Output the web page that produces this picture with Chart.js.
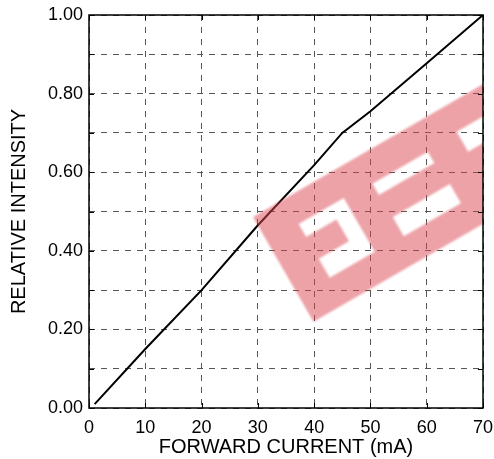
<!DOCTYPE html>
<html>
<head>
<meta charset="utf-8">
<script src="https://cdn.jsdelivr.net/npm/chart.js@4.4.1/dist/chart.umd.min.js"></script>
<style>
  html, body { margin: 0; padding: 0; background: #fff; }
  canvas { display: block; }
</style>
</head>
<body>
<canvas id="chart" width="494" height="459"></canvas>
<script>
const currentMa = [1, 10, 20, 30, 40, 45, 50, 60, 70];
const relIntensity = [0.01, 0.15, 0.30, 0.465, 0.618, 0.70, 0.755, 0.877, 1.0];

const xTicks = [0, 10, 20, 30, 40, 50, 60, 70];
const yTicks = [0, 0.2, 0.4, 0.6, 0.8, 1.0];

const fontFamily = "'Liberation Sans', Arial, sans-serif";

// translucent stamp over the plot, clipped to the chart area
const stampPlugin = {
  id: "stamp",
  afterDatasetsDraw(chart) {
    const { ctx, chartArea } = chart;
    ctx.save();
    ctx.beginPath();
    ctx.rect(chartArea.left, chartArea.top, chartArea.right - chartArea.left, chartArea.bottom - chartArea.top);
    ctx.clip();
    ctx.filter = "blur(1px)";
    ctx.translate(253, 217);
    ctx.rotate(-Math.PI / 6);
    ctx.beginPath();
    ctx.rect(0, 0, 420, 121);
    ctx.rect(36, 29, 52, 62);
    ctx.rect(36, 44, 35, 25);
    ctx.rect(120, 31, 64, 13);
    ctx.rect(121, 70, 66, 22);
    ctx.rect(219, 28, 100, 23);
    ctx.fillStyle = "rgba(220, 70, 80, 0.5)";
    ctx.fill("evenodd");
    ctx.restore();
  },
};

// box round the plot with small inward tick marks
const framePlugin = {
  id: "frame",
  afterDraw(chart) {
    const { ctx, chartArea } = chart;
    const { left, right, top, bottom } = chartArea;
    const x = chart.scales.x;
    const y = chart.scales.y;
    const len = 5;
    ctx.save();
    ctx.strokeStyle = "#000";
    ctx.lineWidth = 1.5;
    ctx.strokeRect(left, top, right - left, bottom - top);
    ctx.lineWidth = 1;
    ctx.beginPath();
    x.ticks.forEach((t) => {
      const px = Math.round(x.getPixelForValue(t.value)) + 0.5;
      ctx.moveTo(px, bottom);
      ctx.lineTo(px, bottom - len);
      ctx.moveTo(px, top);
      ctx.lineTo(px, top + len);
    });
    y.ticks.forEach((t) => {
      const py = Math.round(y.getPixelForValue(t.value)) + 0.5;
      ctx.moveTo(left, py);
      ctx.lineTo(left + len, py);
      ctx.moveTo(right, py);
      ctx.lineTo(right - len, py);
    });
    ctx.stroke();
    ctx.restore();
  },
};

new Chart(document.getElementById("chart"), {
  type: "line",
  data: {
    datasets: [
      {
        data: currentMa.map((v, i) => ({ x: v, y: relIntensity[i] })),
        borderColor: "#000",
        borderWidth: 2,
        pointRadius: 0,
        tension: 0,
        fill: false,
      },
    ],
  },
  options: {
    responsive: false,
    animation: false,
    devicePixelRatio: 1,
    layout: { padding: { top: 15, right: 11, left: 0, bottom: 0 } },
    plugins: {
      legend: { display: false },
      tooltip: { enabled: false },
    },
    scales: {
      x: {
        type: "linear",
        min: 0,
        max: 70,
        afterFit(scale) {
          scale.height = 51;
          scale.paddingLeft = 0;
          scale.paddingRight = 0;
        },
        afterBuildTicks(scale) {
          scale.ticks = xTicks.map((v) => ({ value: v }));
        },
        ticks: {
          color: "#000",
          padding: 9,
          font: { family: fontFamily, size: 18 },
          callback: (v) => String(v),
        },
        grid: {
          color: "#555",
          lineWidth: 1,
          drawTicks: false,
        },
        border: { display: false, dash: [6, 6] },
        title: {
          display: true,
          text: "FORWARD CURRENT (mA)",
          color: "#000",
          padding: { top: 0, bottom: 0 },
          font: { family: fontFamily, size: 20 },
        },
      },
      y: {
        type: "linear",
        min: 0,
        max: 1,
        afterFit(scale) {
          scale.width = 89;
          scale.paddingTop = 0;
          scale.paddingBottom = 0;
        },
        ticks: {
          stepSize: 0.1,
          color: "#000",
          padding: 6,
          font: { family: fontFamily, size: 18 },
          callback: (v) => {
            const k = Math.round(v * 10);
            return yTicks.some((t) => Math.round(t * 10) === k) ? v.toFixed(2) : "";
          },
        },
        grid: {
          color: "#555",
          lineWidth: 1,
          drawTicks: false,
        },
        border: { display: false, dash: [6, 6] },
        title: {
          display: true,
          text: "RELATIVE INTENSITY",
          color: "#000",
          padding: { top: 7, bottom: 0 },
          font: { family: fontFamily, size: 20 },
        },
      },
    },
  },
  plugins: [stampPlugin, framePlugin],
});
</script>
</body>
</html>
